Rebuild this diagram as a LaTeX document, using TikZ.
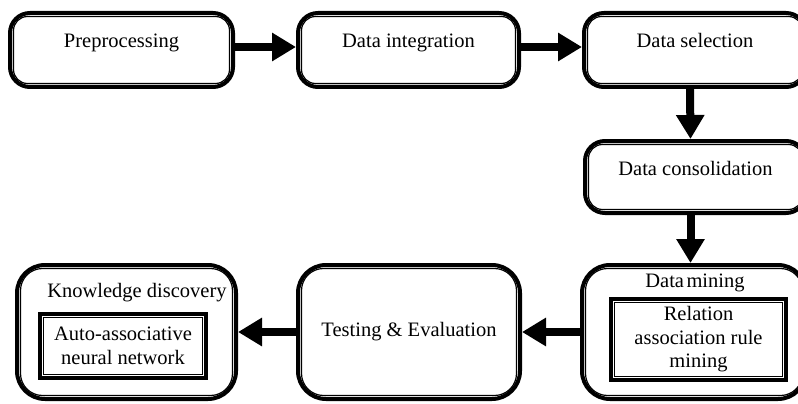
\documentclass[tikz,border=0pt]{standalone}
\usepackage{fontspec}
\setmainfont{Liberation Serif}
\usetikzlibrary{arrows.meta}
\tikzset{
  flowbox/.style={draw, line width=4pt, rounded corners=20pt, inner sep=0pt,
    font=\fontsize{20.5}{24}\selectfont, text height=14pt, text depth=18pt},
  bigbox/.style={draw, line width=4pt, rounded corners=28pt, inner sep=0pt,
    font=\fontsize{20.5}{24}\selectfont},
  sqbox/.style={draw, line width=4.5pt, inner sep=0pt,
    font=\fontsize{20.5}{24.5}\selectfont, align=center},
  title/.style={inner sep=0pt, font=\fontsize{20.5}{24}\selectfont},
  innerline/.style={line width=1.2pt},
  flowarrow/.style={line width=8pt, -{Triangle[length=24pt,width=27pt]}}
}
\begin{document}
\begin{tikzpicture}[x=1pt,y=-1pt]
\useasboundingbox (0,0) rectangle (798,404);
\clip (0,0) rectangle (798,404);
% top row
\node[flowbox, minimum width=223pt, minimum height=74pt] (pre) at (121.5,50) {Preprocessing};
\node[flowbox, minimum width=221pt, minimum height=74pt] (integ) at (408.5,50) {Data integration};
\node[flowbox, minimum width=222pt, minimum height=74pt] (sel) at (695,50) {Data selection};
% right column
\node[flowbox, minimum width=221pt, minimum height=72pt] (consol) at (695.5,177) {Data consolidation};
\node[bigbox, minimum width=224pt, minimum height=134pt] (mining) at (694,332) {};
% bottom row
\node[bigbox, minimum width=222pt, minimum height=134pt] (test) at (409,332) {Testing \& Evaluation};
\node[bigbox, minimum width=219pt, minimum height=134pt] (know) at (126.5,332) {};
% inner thin lines
\foreach \n/\r in {pre/14,integ/14,sel/14,consol/14,mining/22,test/22,know/22}{
  \draw[innerline, rounded corners=\r pt] ([shift={(5.5,5.5)}]\n.north west) rectangle ([shift={(-5.5,-5.5)}]\n.south east);
}
% titles and inner boxes
\node[title] (kdtitle) at (137,293) {Knowledge discovery};
\node[title] (dmtitle) at (695,283) {Data\hspace{0.12em}mining};
\node[sqbox, minimum width=166pt, minimum height=64pt] (aann) at (123,346)
  {Auto-associative\\ neural network};
\node[sqbox, minimum width=175pt, minimum height=81pt] (rarm) at (698.5,339.5)
  {Relation\\[-1pt] association rule\\[-1pt] mining};
\foreach \n in {aann,rarm}{
  \draw[innerline] ([shift={(6,6)}]\n.north west) rectangle ([shift={(-6,-6)}]\n.south east);
}
% connectors
\draw[flowarrow] ([yshift=3pt]pre.east) -- ([yshift=3pt]integ.west);
\draw[flowarrow] ([yshift=3pt]integ.east) -- ([yshift=3pt]sel.west);
\draw[flowarrow] ([xshift=-5pt]sel.south) -- ([xshift=-5pt]consol.south |- consol.north);
\draw[flowarrow] ([xshift=-5pt]consol.south) -- ([xshift=-5pt]consol.south |- mining.north);
\draw[flowarrow] (mining.west) -- (test.east);
\draw[flowarrow] (test.west) -- (know.east);
\end{tikzpicture}
\end{document}
